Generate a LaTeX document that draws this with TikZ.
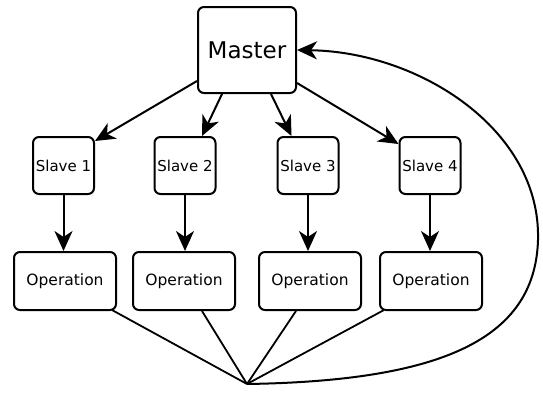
\documentclass[tikz,border=0pt]{standalone}
\usepackage{fontspec}
\setmainfont{DejaVu Sans}
\usetikzlibrary{arrows.meta}
\begin{document}
\begin{tikzpicture}[x=1pt,y=-1pt,
  box/.style={draw=black,line width=2pt,rounded corners=6pt,fill=white,inner sep=0pt,align=center},
  masterbox/.style={box,minimum width=98pt,minimum height=86pt,font=\fontsize{23}{26}\selectfont},
  slavebox/.style={box,minimum width=61pt,minimum height=57pt,font=\fontsize{15}{18}\selectfont},
  opbox/.style={box,minimum width=102pt,minimum height=58pt,font=\fontsize{15.5}{18}\selectfont},
  arr/.style={line width=2pt,-{Stealth[length=20pt,width=18pt,inset=6pt]}},
  ln/.style={line width=1.8pt}]
\useasboundingbox (0,0) rectangle (543,399);
\node[masterbox] (m) at (247,50) {Master};
\node[slavebox] (s1) at (63.5,165.5) {Slave 1};
\node[slavebox] (s2) at (185,165.5) {Slave 2};
\node[slavebox] (s3) at (308,165.5) {Slave 3};
\node[slavebox] (s4) at (430,165.5) {Slave 4};
\node[opbox] (o1) at (65,281) {Operation};
\node[opbox] (o2) at (184,281) {Operation};
\node[opbox] (o3) at (310,281) {Operation};
\node[opbox] (o4) at (431,281) {Operation};
\coordinate (c) at (247,384);
\draw[arr] ([yshift=13pt]m.south west) -- ([yshift=-5pt]s1.north east);
\draw[arr] ([xshift=25pt]m.south west) -- ([xshift=17pt]s2.north);
\draw[arr] ([xshift=-26pt]m.south east) -- ([xshift=15pt]s3.north west);
\draw[arr] ([yshift=11pt]m.south east) -- ([yshift=-8pt]s4.north west);
\foreach \i in {1,2,3,4} \draw[arr] (s\i.south) -- (s\i.south |- o\i.north);
\draw[ln] ([xshift=-5pt,yshift=1pt]o1.south east) -- (c);
\draw[ln] ([xshift=18pt]o2.south) -- (c);
\draw[ln] ([xshift=-14pt]o3.south) -- (c);
\draw[ln] ([xshift=5pt,yshift=1pt]o4.south west) -- (c);
\draw[arr] (c) .. controls (440,381) and (535,340) .. (538,240)
  .. controls (541,130) and (420,52) .. (m.east);
\end{tikzpicture}
\end{document}
